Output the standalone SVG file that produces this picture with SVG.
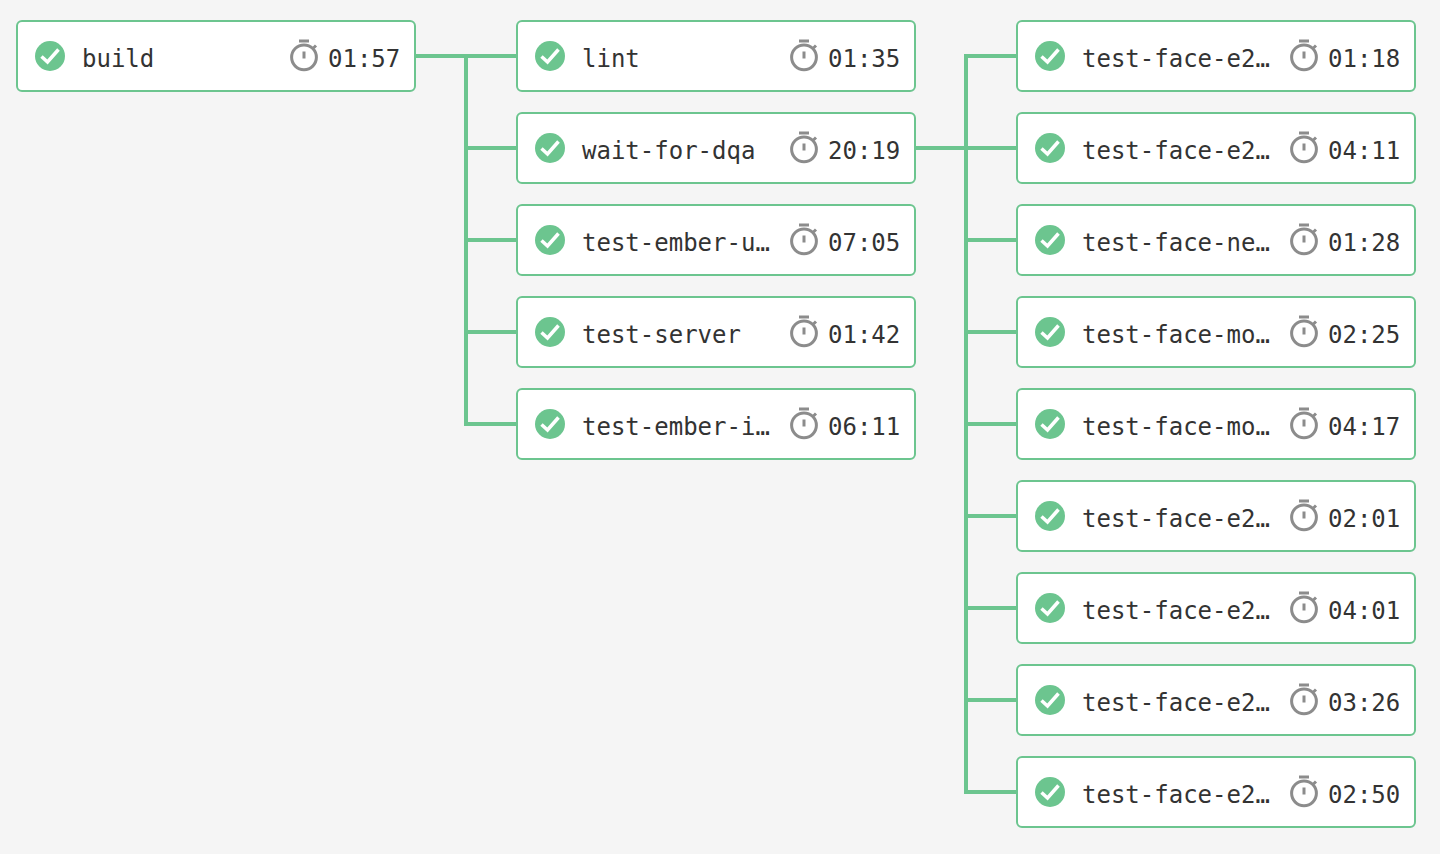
<svg xmlns="http://www.w3.org/2000/svg" xmlns:xlink="http://www.w3.org/1999/xlink" width="1440" height="854" viewBox="0 0 1440 854">
<style>
.box{fill:#fff;stroke:#6cc58f;stroke-width:2}
.t{font-family:"DejaVu Sans Mono","Liberation Mono",monospace;font-size:24px;fill:#333}
.c{fill:none;stroke:#6cc58f;stroke-width:4}
.k{fill:none;stroke:#fff;stroke-width:3.500}
.g{fill:none;stroke:#8c8c8c;stroke-width:3}
</style>
<defs>
<g id="ok"><circle cx="50" cy="56" r="15" fill="#6cc58f"/><path class="k" d="M41.500 56.500L47.500 62L58.500 49.500"/></g>
<g id="clk"><circle class="g" cx="304" cy="57.300" r="12.400"/><path class="g" d="M299 41H309M304 51.500V58.500M313.500 48L316 45.500"/></g>
<rect id="b" class="box" x="17" y="21" width="398" height="70" rx="5"/>
</defs>
<rect width="1440" height="854" fill="#f5f5f5"/>
<g id="connectors">
<path class="c" d="M416 56H516M466 56V424H516M466 148H516M466 240H516M466 332H516"/>
<path class="c" d="M1016 56H966V792H1016M916 148H1016M966 240H1016M966 332H1016M966 424H1016M966 516H1016M966 608H1016M966 700H1016"/>
</g>
<g id="n1"><use xlink:href="#b"/><use xlink:href="#ok"/><use xlink:href="#clk"/><text class="t" x="82" y="66.700">build</text><text class="t" x="328" y="66.700">01:57</text></g>
<g id="n2" transform="translate(500 0)"><use xlink:href="#b"/><use xlink:href="#ok"/><use xlink:href="#clk"/><text class="t" x="82" y="66.700">lint</text><text class="t" x="328" y="66.700">01:35</text></g>
<g id="n3" transform="translate(500 92)"><use xlink:href="#b"/><use xlink:href="#ok"/><use xlink:href="#clk"/><text class="t" x="82" y="66.700">wait-for-dqa</text><text class="t" x="328" y="66.700">20:19</text></g>
<g id="n4" transform="translate(500 184)"><use xlink:href="#b"/><use xlink:href="#ok"/><use xlink:href="#clk"/><text class="t" x="82" y="66.700">test-ember-u…</text><text class="t" x="328" y="66.700">07:05</text></g>
<g id="n5" transform="translate(500 276)"><use xlink:href="#b"/><use xlink:href="#ok"/><use xlink:href="#clk"/><text class="t" x="82" y="66.700">test-server</text><text class="t" x="328" y="66.700">01:42</text></g>
<g id="n6" transform="translate(500 368)"><use xlink:href="#b"/><use xlink:href="#ok"/><use xlink:href="#clk"/><text class="t" x="82" y="66.700">test-ember-i…</text><text class="t" x="328" y="66.700">06:11</text></g>
<g id="n7" transform="translate(1000 0)"><use xlink:href="#b"/><use xlink:href="#ok"/><use xlink:href="#clk"/><text class="t" x="82" y="66.700">test-face-e2…</text><text class="t" x="328" y="66.700">01:18</text></g>
<g id="n8" transform="translate(1000 92)"><use xlink:href="#b"/><use xlink:href="#ok"/><use xlink:href="#clk"/><text class="t" x="82" y="66.700">test-face-e2…</text><text class="t" x="328" y="66.700">04:11</text></g>
<g id="n9" transform="translate(1000 184)"><use xlink:href="#b"/><use xlink:href="#ok"/><use xlink:href="#clk"/><text class="t" x="82" y="66.700">test-face-ne…</text><text class="t" x="328" y="66.700">01:28</text></g>
<g id="n10" transform="translate(1000 276)"><use xlink:href="#b"/><use xlink:href="#ok"/><use xlink:href="#clk"/><text class="t" x="82" y="66.700">test-face-mo…</text><text class="t" x="328" y="66.700">02:25</text></g>
<g id="n11" transform="translate(1000 368)"><use xlink:href="#b"/><use xlink:href="#ok"/><use xlink:href="#clk"/><text class="t" x="82" y="66.700">test-face-mo…</text><text class="t" x="328" y="66.700">04:17</text></g>
<g id="n12" transform="translate(1000 460)"><use xlink:href="#b"/><use xlink:href="#ok"/><use xlink:href="#clk"/><text class="t" x="82" y="66.700">test-face-e2…</text><text class="t" x="328" y="66.700">02:01</text></g>
<g id="n13" transform="translate(1000 552)"><use xlink:href="#b"/><use xlink:href="#ok"/><use xlink:href="#clk"/><text class="t" x="82" y="66.700">test-face-e2…</text><text class="t" x="328" y="66.700">04:01</text></g>
<g id="n14" transform="translate(1000 644)"><use xlink:href="#b"/><use xlink:href="#ok"/><use xlink:href="#clk"/><text class="t" x="82" y="66.700">test-face-e2…</text><text class="t" x="328" y="66.700">03:26</text></g>
<g id="n15" transform="translate(1000 736)"><use xlink:href="#b"/><use xlink:href="#ok"/><use xlink:href="#clk"/><text class="t" x="82" y="66.700">test-face-e2…</text><text class="t" x="328" y="66.700">02:50</text></g>
</svg>
